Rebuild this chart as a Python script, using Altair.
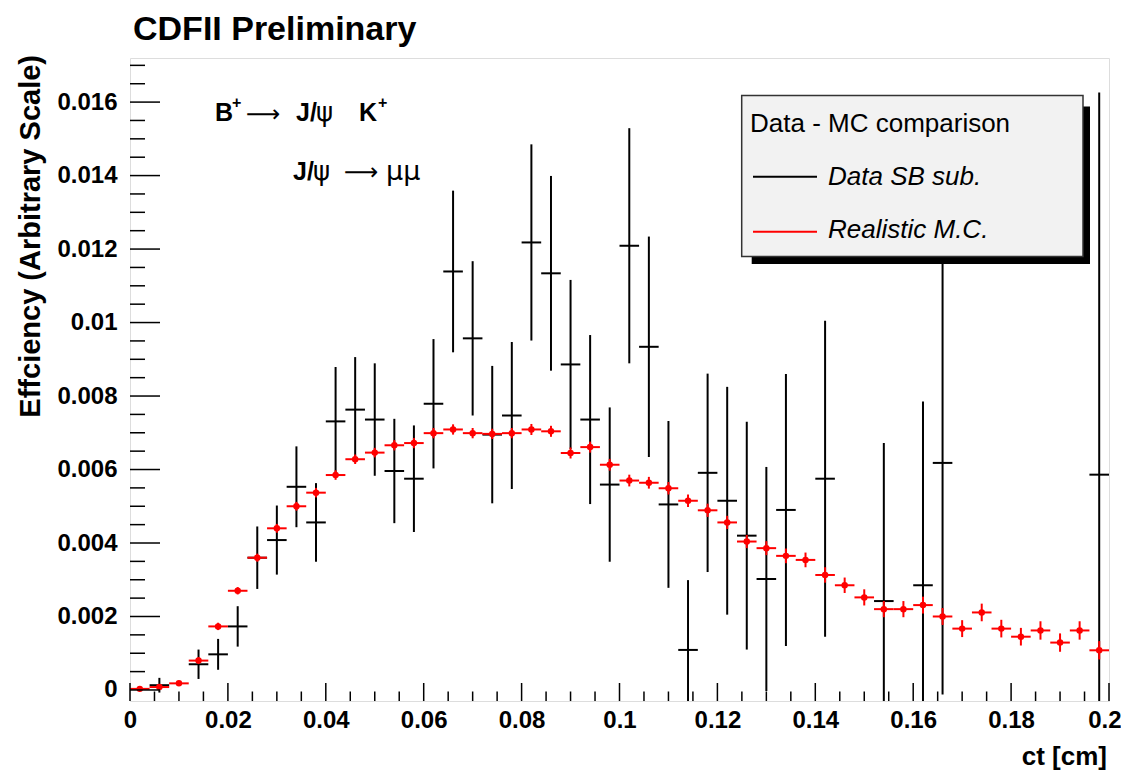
import altair as alt
import pandas as pd

# ---------------- data ----------------
# Realistic M.C. (red), bin centres in ct [cm]
mc_ct = [0.002, 0.006, 0.010, 0.014, 0.018, 0.022, 0.026, 0.030, 0.034, 0.038,
         0.042, 0.046, 0.050, 0.054, 0.058, 0.062, 0.066, 0.070, 0.074, 0.078,
         0.082, 0.086, 0.090, 0.094, 0.098, 0.102, 0.106, 0.110, 0.114, 0.118,
         0.122, 0.126, 0.130, 0.134, 0.138, 0.142, 0.146, 0.150, 0.154, 0.158,
         0.162, 0.166, 0.170, 0.174, 0.178, 0.182, 0.186, 0.190, 0.194, 0.198]
mc_eff = [0.00003, 0.00008, 0.00018, 0.00080, 0.00173, 0.00270, 0.00360, 0.00440, 0.00500, 0.00537,
          0.00585, 0.00628, 0.00646, 0.00666, 0.00672, 0.00699, 0.00709, 0.00699, 0.00697, 0.00699,
          0.00709, 0.00704, 0.00645, 0.00661, 0.00613, 0.00570, 0.00564, 0.00549, 0.00515, 0.00489,
          0.00456, 0.00404, 0.00386, 0.00365, 0.00354, 0.00313, 0.00285, 0.00252, 0.00220, 0.00220,
          0.00231, 0.00200, 0.00167, 0.00211, 0.00167, 0.00145, 0.00162, 0.00129, 0.00162, 0.00108]
mc_err = [0.00003, 0.00004, 0.00006, 0.00009, 0.00010, 0.00010, 0.00011, 0.00012, 0.00012, 0.00013,
          0.00013, 0.00013, 0.00013, 0.00014, 0.00014, 0.00014, 0.00014, 0.00014, 0.00014, 0.00014,
          0.00015, 0.00015, 0.00015, 0.00015, 0.00016, 0.00016, 0.00016, 0.00017, 0.00017, 0.00018,
          0.00018, 0.00018, 0.00019, 0.00020, 0.00020, 0.00021, 0.00021, 0.00022, 0.00022, 0.00022,
          0.00023, 0.00023, 0.00023, 0.00024, 0.00024, 0.00024, 0.00025, 0.00025, 0.00025, 0.00025]

# Data SB sub. (black)
data_ct = [0.006, 0.014, 0.018, 0.022, 0.026, 0.030, 0.034, 0.038, 0.042, 0.046,
           0.050, 0.054, 0.058, 0.062, 0.066, 0.070, 0.074, 0.078, 0.082, 0.086,
           0.090, 0.094, 0.098, 0.102, 0.106, 0.110, 0.114, 0.118, 0.122, 0.126,
           0.130, 0.134, 0.142, 0.154, 0.162, 0.166, 0.198]
data_eff = [0.00013, 0.00070, 0.00097, 0.00173, 0.00360, 0.00408, 0.00553, 0.00456, 0.00731, 0.00763,
            0.00736, 0.00596, 0.00575, 0.00779, 0.01139, 0.00957, 0.00695, 0.00747, 0.01218, 0.01134,
            0.00886, 0.00736, 0.00559, 0.01209, 0.00934, 0.00505, 0.00109, 0.00591, 0.00515, 0.00420,
            0.00302, 0.00490, 0.00575, 0.00242, 0.00285, 0.00618, 0.00586]
data_err = [0.00020, 0.00040, 0.00042, 0.00055, 0.00085, 0.00094, 0.00110, 0.00107, 0.00148, 0.00143,
            0.00153, 0.00142, 0.00145, 0.00176, 0.00220, 0.00210, 0.00187, 0.00200, 0.00267, 0.00265,
            0.00230, 0.00230, 0.00210, 0.00320, 0.00300, 0.00227, 0.00190, 0.00270, 0.00310, 0.00310,
            0.00305, 0.00370, 0.00430, 0.00430, 0.00500, 0.00630, 0.01040]

bin_half = 0.002

x_major = [0, 0.02, 0.04, 0.06, 0.08, 0.1, 0.12, 0.14, 0.16, 0.18, 0.2]
y_major = [0, 0.002, 0.004, 0.006, 0.008, 0.01, 0.012, 0.014, 0.016]
x_minor = [round(i * 0.005, 3) for i in range(41) if i % 4]
y_minor = [round(i * 0.0005, 4) for i in range(35) if i % 4]

legend_names = ["Data SB sub.", "Realistic M.C."]
legend_colors = ["#000000", "#ff0000"]

# ---------------- tables ----------------
mc = pd.DataFrame({"ct": mc_ct, "eff": mc_eff})
mc["lo"] = mc["eff"] - pd.Series(mc_err)
mc["hi"] = mc["eff"] + pd.Series(mc_err)
mc["x0"] = mc["ct"] - bin_half
mc["x1"] = mc["ct"] + bin_half

dd = pd.DataFrame({"ct": data_ct, "eff": data_eff})
dd["lo"] = dd["eff"] - pd.Series(data_err)
dd["hi"] = dd["eff"] + pd.Series(data_err)
dd["x0"] = dd["ct"] - bin_half
dd["x1"] = dd["ct"] + bin_half

FONT = "Liberation Sans"
W, H = 979, 643

xscale = alt.Scale(domain=[0, 0.2], nice=False, zero=False)
yscale = alt.Scale(domain=[-0.0003, 0.0172], nice=False, zero=False)

x_axis = alt.Axis(values=x_major, format="~g", title=None, grid=False, ticks=False, domain=False,
                  labelFont=FONT, labelFontWeight="bold", labelFontSize=24, labelColor="black",
                  labelPadding=7, labelOverlap=False, labelFlush=False,
                  labelAlign={"condition": {"test": "datum.value >= 0.2", "value": "right"}, "value": "center"},
                  labelOffset={"condition": {"test": "datum.value >= 0.2", "value": 12}, "value": 0})
y_axis = alt.Axis(values=y_major, format="~g", title=None, grid=False, ticks=False, domain=False,
                  labelFont=FONT, labelFontWeight="bold", labelFontSize=24, labelColor="black",
                  labelPadding=13, labelOverlap=False, labelFlush=False)


def X(field):
    return alt.X(field, scale=xscale, axis=x_axis)


def Y(field):
    return alt.Y(field, scale=yscale, axis=y_axis)


# data error bars (black)
d_v = alt.Chart(dd).mark_rule(color="black", strokeWidth=2, clip=True).encode(
    x=X("ct:Q"), y=Y("lo:Q"), y2="hi:Q")
d_h = alt.Chart(dd).mark_rule(color="black", strokeWidth=2, clip=True).encode(
    x=X("x0:Q"), x2="x1:Q", y=Y("eff:Q"))

# MC (red)
m_h = alt.Chart(mc).mark_rule(color="#ff0000", strokeWidth=2, clip=True).encode(
    x=X("x0:Q"), x2="x1:Q", y=Y("eff:Q"))
m_v = alt.Chart(mc).mark_rule(color="#ff0000", strokeWidth=2, clip=True).encode(
    x=X("ct:Q"), y=Y("lo:Q"), y2="hi:Q")
m_p = alt.Chart(mc).mark_circle(color="#ff0000", size=42, opacity=1, clip=True).encode(
    x=X("ct:Q"), y=Y("eff:Q"))

# inward ticks (ROOT style)
xt_major = alt.Chart(pd.DataFrame({"v": x_major})).mark_rule(color="black", strokeWidth=1.5).encode(
    x=X("v:Q"), y=alt.value(H), y2=alt.value(H - 18))
xt_minor = alt.Chart(pd.DataFrame({"v": x_minor})).mark_rule(color="black", strokeWidth=1.5).encode(
    x=X("v:Q"), y=alt.value(H), y2=alt.value(H - 9.5))
yt_major = alt.Chart(pd.DataFrame({"v": y_major})).mark_rule(color="black", strokeWidth=1.5).encode(
    y=Y("v:Q"), x=alt.value(0), x2=alt.value(30))
yt_minor = alt.Chart(pd.DataFrame({"v": y_minor})).mark_rule(color="black", strokeWidth=1.5).encode(
    y=Y("v:Q"), x=alt.value(0), x2=alt.value(15))

one = pd.DataFrame({"k": [0]})


def txt(s, x, y, font=FONT, **kw):
    return alt.Chart(one).mark_text(text=s, font=font, color="black", **kw).encode(
        x=alt.value(x), y=alt.value(y))


def box(x1, x2, y1, y2, **kw):
    return alt.Chart(one).mark_rect(**kw).encode(
        x=alt.value(x1), x2=alt.value(x2), y=alt.value(y1), y2=alt.value(y2))


# legend (drawn by hand, ROOT TLegend look)
leg_shadow = box(621.7, 960, 48.4, 206, color="black")
leg_box = box(611.7, 953, 37.4, 198.4, fill="#f2f2f2", stroke="#333333", strokeWidth=1.5)
leg_title = txt("Data - MC comparison", 620, 73.7, fontSize=26, align="left", baseline="alphabetic")
leg_df = pd.DataFrame({"name": legend_names, "color": legend_colors, "yy": [118.7, 173.7],
                       "ty": [126.7, 179.7]})
leg_lines = alt.Chart(leg_df).mark_rule(strokeWidth=2).encode(
    x=alt.value(623), x2=alt.value(687), y=alt.Y("yy:Q", scale=None, axis=None),
    color=alt.Color("color:N", scale=None, legend=None))
leg_text = alt.Chart(leg_df).mark_text(font=FONT, fontSize=26, fontStyle="italic", align="left",
                                       baseline="alphabetic", color="black").encode(
    x=alt.value(698), y=alt.Y("ty:Q", scale=None, axis=None), text="name:N")

# annotations
SYM = "DejaVu Sans"
title = txt("CDFII Preliminary", 3, -18.3, fontSize=34, fontWeight="bold", align="left",
            baseline="alphabetic")
ann = [
    txt("B", 85, 63.4, fontSize=25, fontWeight="bold", align="left", baseline="alphabetic"),
    txt("+", 102, 50, fontSize=16, fontWeight="bold", align="left", baseline="alphabetic"),
    txt("\u27f6", 116, 57, font=SYM, fontSize=24, align="left", baseline="middle"),
    txt("J/", 166, 63.4, fontSize=25, fontWeight="bold", align="left", baseline="alphabetic"),
    txt("\u03c8", 186, 63.4, font=SYM, fontSize=26, align="left", baseline="alphabetic"),
    txt("K", 229, 63.4, fontSize=25, fontWeight="bold", align="left", baseline="alphabetic"),
    txt("+", 248, 50, fontSize=16, fontWeight="bold", align="left", baseline="alphabetic"),
    txt("J/", 163, 121.7, fontSize=25, fontWeight="bold", align="left", baseline="alphabetic"),
    txt("\u03c8", 183, 121.7, font=SYM, fontSize=26, align="left", baseline="alphabetic"),
    txt("\u27f6", 214, 115.3, font=SYM, fontSize=24, align="left", baseline="middle"),
    txt("\u03bc\u03bc", 256, 121.7, font=SYM, fontSize=27, align="left", baseline="alphabetic"),
]
ytitle = txt("Effciency (Arbitrary Scale)", -99, -3, fontSize=29, fontWeight="bold", angle=270,
             align="right", baseline="middle")
xtitle = txt("ct [cm]", 977, 707, fontSize=26, fontWeight="bold", align="right", baseline="alphabetic")

chart = alt.layer(
    d_v, d_h, m_h, m_v, m_p,
    xt_major, xt_minor, yt_major, yt_minor,
    leg_shadow, leg_box, leg_title, leg_lines, leg_text,
    title, *ann, ytitle, xtitle,
).resolve_scale(color="independent").properties(
    width=W, height=H,
    padding={"left": 122, "top": 50, "right": 12, "bottom": 70},
    autosize=alt.AutoSizeParams(type="none"),
).configure_view(stroke="black", strokeWidth=1.8).configure(background="white")

chart.save("out.html", embed_options={"renderer": "svg", "actions": False})
